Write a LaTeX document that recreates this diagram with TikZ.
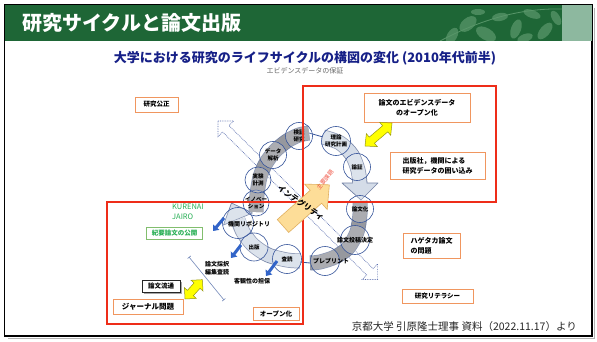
\documentclass[tikz,border=0pt]{standalone}
\usepackage{fontspec}
\setmainfont{Noto Sans CJK JP}
\usetikzlibrary{arrows.meta}
\definecolor{hdgreen}{RGB}{30,102,54}
\definecolor{hdlight}{RGB}{141,184,159}
\definecolor{leafc}{RGB}{88,150,105}
\definecolor{navy}{RGB}{22,32,135}
\definecolor{orbox}{RGB}{240,150,95}
\definecolor{redl}{RGB}{238,45,25}
\definecolor{grbox}{RGB}{130,190,110}
\definecolor{grtext}{RGB}{40,175,85}
\definecolor{cblue}{RGB}{55,85,155}
\definecolor{darkband}{RGB}{150,152,158}
\definecolor{lightband}{RGB}{212,220,232}
\definecolor{bandline}{RGB}{115,130,165}
\definecolor{yel}{RGB}{255,255,0}
\definecolor{yelline}{RGB}{150,150,20}
\definecolor{integ}{RGB}{253,221,152}
\definecolor{integline}{RGB}{225,175,95}
\definecolor{sblue}{RGB}{50,100,200}
\definecolor{dotc}{RGB}{90,110,175}
\begin{document}
\begin{tikzpicture}[x=1pt,y=-1pt,
  obox/.style={draw=orbox, line width=0.9pt, fill=white, inner sep=0pt,
    font=\bfseries\fontsize{6.5}{8.5}\selectfont, align=center},
  cyc/.style={circle, draw=cblue, line width=0.6pt, fill=white, fill opacity=0.2,
    text opacity=1, minimum size=#1, inner sep=0pt,
    font=\bfseries\fontsize{5.5}{6.5}\selectfont, align=center},
  bandO/.style={line width=15pt, draw=bandline, line join=round},
  bandD/.style={line width=13.5pt, draw=darkband, line join=round},
  bandL/.style={line width=13.5pt, draw=lightband, line join=round},
  sarrow/.style={line width=3pt, draw=sblue, -{Triangle[length=5pt,width=8pt]}},
  thinb/.style={draw=cblue, line width=0.8pt},
  lbl/.style={font=\bfseries\fontsize{6}{7.5}\selectfont, align=center, inner sep=0pt}
]
\useasboundingbox (0,0) rectangle (597,342);
\fill[white] (0,0) rectangle (597,342);
% frame with shadow
\draw[gray!60, line width=1.5pt] (8,338.5) -- (594.5,338.5) -- (594.5,8);
\draw[black, line width=1.6pt, fill=white] (4.5,4.5) rectangle (592,336);
% header
\fill[hdgreen] (5,5) rectangle (562,41);
\fill[hdlight] (562,5) rectangle (591.5,41);
\begin{scope}
\clip (5,5) rectangle (562,41);
\foreach \x/\y/\a/\r/\s in {452/36/60/9/5, 468/24/40/10/6, 486/34/-30/11/6, 500/17/10/8/4,
  516/29/70/10/5, 532/14/-20/9/4, 545/31/50/10/5, 556/18/-60/8/4, 478/12/0/7/3, 525/38/20/8/4}
  \fill[leafc, opacity=0.75, rotate around={\a:(\x,\y)}] (\x,\y) ellipse (\r pt and \s pt);
\draw[leafc, line width=0.8pt] (440,41) .. controls (480,20) and (520,8) .. (562,9);
\end{scope}
\node[anchor=west, text=white, font=\bfseries\fontsize{20}{22}\selectfont, inner sep=0pt] (title) at (22,23) {研究サイクルと論文出版};
% subtitles
\node[text=navy, font=\bfseries\fontsize{13}{15}\selectfont, inner sep=0pt] (sub) at (305,58) {大学における研究のライフサイクルの構図の変化 (2010年代前半)};
\node[text=gray!80!black, font=\fontsize{7}{8}\selectfont, inner sep=0pt] (sub2) at (305,71) {エビデンスデータの保証};

% dotted double arrow
\begin{scope}[shift={(218,121)}, rotate=-44.8]
\draw[dotc, densely dotted, line width=0.7pt] (0,0) -- (11,11) -- (11,4.5) -- (214,4.5) -- (214,11) -- (225,0) -- (214,-11) -- (214,-4.5) -- (11,-4.5) -- (11,-11) -- cycle;
\end{scope}

% cycle bands
\draw[bandO] plot[smooth] coordinates {(256,212) (257,195) (260,177) (266,163) (275,151) (287,141) (299,135) (309,133)};
\draw[bandD] plot[smooth] coordinates {(256,212) (257,195) (260,177) (266,163) (275,151) (287,141) (299,135) (309,133)};
\draw[thinb] (309,133) -- (323,137);
\draw[bandO] plot[smooth] coordinates {(323,137) (340,143) (352,155) (358,170) (360,184)};
\filldraw[fill=lightband, draw=bandline, line width=0.7pt, line join=round] (342,183) -- (378,183) -- (361,200) -- cycle;
\draw[bandL] plot[smooth] coordinates {(323,137) (340,143) (352,155) (358,170) (360,184.5)};
\draw[bandO] plot[smooth] coordinates {(360,201) (360,214) (357,232) (348,248) (335,257) (320,262) (310,263)};
\draw[bandD] plot[smooth] coordinates {(360,201) (360,214) (357,232) (348,248) (335,257) (320,262) (310,263)};
\draw[thinb] (310,263) -- (300,262);
\draw[bandO] plot[smooth] coordinates {(300,261) (287,260) (268,255) (253,245) (243,232) (238,220)};
\filldraw[fill=lightband, draw=bandline, line width=0.7pt, line join=round] (252.5,213) -- (231.5,203) -- (223.5,225) -- cycle;
\draw[bandL] plot[smooth] coordinates {(300,261) (287,260) (268,255) (253,245) (243,232) (238.5,219.5)};

% cycle circles
\node[cyc=27] (A) at (299,136) {検証\\研究};
\node[cyc=29] (B) at (336,141) {理論\\研究計画};
\node[cyc=27] (C) at (357,167) {論証};
\node[cyc=27] (D) at (360,209) {論文化};
\node[cyc=29] (E) at (355,240) {};
\node[lbl] (Et) at (355,240) {論文投稿決定};
\node[cyc=29] (F) at (325,261) {};
\node[lbl] (Ft) at (331,261) {プレプリント};
\node[cyc=29] (G) at (287,259) {査読};
\node[cyc=28] (H) at (254,247) {出版};
\node[cyc=31] (I) at (238,223) {};
\node[lbl] (It) at (249,224) {機関リポジトリ};
\node[cyc=26] (J) at (256,203) {イノベー\\ション};
\node[cyc=26] (K) at (258,180) {実験\\計測};
\node[cyc=27] (L) at (273,155) {データ\\解析};

% small blue arrows
\coordinate (s1a) at (224,218); \coordinate (s1b) at (213,231);
\coordinate (s2a) at (241,245); \coordinate (s2b) at (231,258);
\coordinate (s3a) at (277,261); \coordinate (s3b) at (266,276);
\draw[sarrow] (s1a) -- (s1b);
\draw[sarrow] (s2a) -- (s2b);
\draw[sarrow] (s3a) -- (s3b);

% red rectangles
\draw[redl, line width=1.5pt] (303,86) rectangle (496,202);
\draw[redl, line width=1.5pt] (107,202) rectangle (303,324);

% integrity arrow
\begin{scope}[shift={(283,226)}, rotate=41.6]
\filldraw[fill=integ, draw=integline, line width=0.6pt, line join=miter] (0,8.6) -- (44,8.6) -- (44,17) -- (62,0) -- (44,-17) -- (44,-8.6) -- (0,-8.6) -- cycle;
\end{scope}
\node[rotate=-35, font=\bfseries\fontsize{7.8}{9}\selectfont, inner sep=0pt] (integ) at (301,203) {インテグリティ};
\node[rotate=52, text=redl!80, font=\fontsize{5.8}{7}\selectfont, inner sep=0pt] (kadai) at (325,180) {主要課題};

% boxes
\node[obox, minimum width=43pt, minimum height=15pt] (kosei) at (156.5,104.5) {研究公正};
\node[obox, minimum width=106pt, minimum height=29pt, font=\bfseries\fontsize{7}{10}\selectfont] (evid) at (417,108) {論文のエビデンスデータ\\のオープン化};
\node[obox, minimum width=95pt, minimum height=27pt, align=left, font=\bfseries\fontsize{7}{10}\selectfont] (kakoi) at (437.5,165.5) {出版社，機関による\\研究データの囲い込み};
\node[anchor=north west, text=grtext, font=\fontsize{7.5}{9.5}\selectfont, align=left, inner sep=0pt] (kure) at (172,204) {KURENAI\\JAIRO};
\node[draw=grbox, line width=0.9pt, fill=white, text=grtext, minimum width=56pt, minimum height=12pt, inner sep=0pt, font=\bfseries\fontsize{6.5}{8}\selectfont] (kiyo) at (174.5,233.5) {紀要論文の公開};
\draw[gray!70, line width=1.2pt] (143.5,293.5) -- (181.5,293.5) -- (181.5,281.5);
\node[draw=black!85, line width=0.9pt, fill=white, minimum width=38pt, minimum height=12pt, inner sep=0pt, font=\bfseries\fontsize{6.5}{8}\selectfont] (ryutsu) at (161,286) {論文流通};
\node[obox, minimum width=70pt, minimum height=15pt, font=\bfseries\fontsize{7.5}{9}\selectfont] (journal) at (148,306.5) {ジャーナル問題};
\node[obox, minimum width=46pt, minimum height=13pt] (open) at (276,313.5) {オープン化};
\node[obox, minimum width=57pt, minimum height=25pt, align=left, font=\bfseries\fontsize{7}{10}\selectfont] (hage) at (431.5,245.5) {ハゲタカ論文\\の問題};
\node[obox, minimum width=71pt, minimum height=14pt] (lit) at (437.5,296) {研究リテラシー};
\node[lbl] (saitaku) at (217,268) {論文採択\\編集査読};
\node[lbl] (kyakkan) at (252,281) {客観性の担保};
% thin slanted line
\coordinate (tl1) at (189,257); \coordinate (tl2) at (224,300);
\draw[draw=cblue!70, line width=0.6pt, {Bar[width=4pt]}-{Bar[width=4pt]}] (tl1) -- (tl2);

% yellow double arrows
\begin{scope}[shift={(365,146)}, rotate=40.4]
\filldraw[fill=yel, draw=yelline, line width=0.5pt] (0,0) -- (9,8.5) -- (9,4) -- (26.5,4) -- (26.5,8.5) -- (35.5,0) -- (26.5,-8.5) -- (26.5,-4) -- (9,-4) -- (9,-8.5) -- cycle;
\end{scope}
\begin{scope}[shift={(185,299)}, rotate=48]
\filldraw[fill=yel, draw=yelline, line width=0.5pt] (0,0) -- (8,8) -- (8,4) -- (18,4) -- (18,8) -- (26,0) -- (18,-8) -- (18,-4) -- (8,-4) -- (8,-8) -- cycle;
\end{scope}

% source
\node[anchor=east, text=black!85, font=\fontsize{10.5}{12}\selectfont, inner sep=0pt] (src) at (577,327) {京都大学 引原隆士理事 資料（2022.11.17）より};
\end{tikzpicture}
\end{document}
